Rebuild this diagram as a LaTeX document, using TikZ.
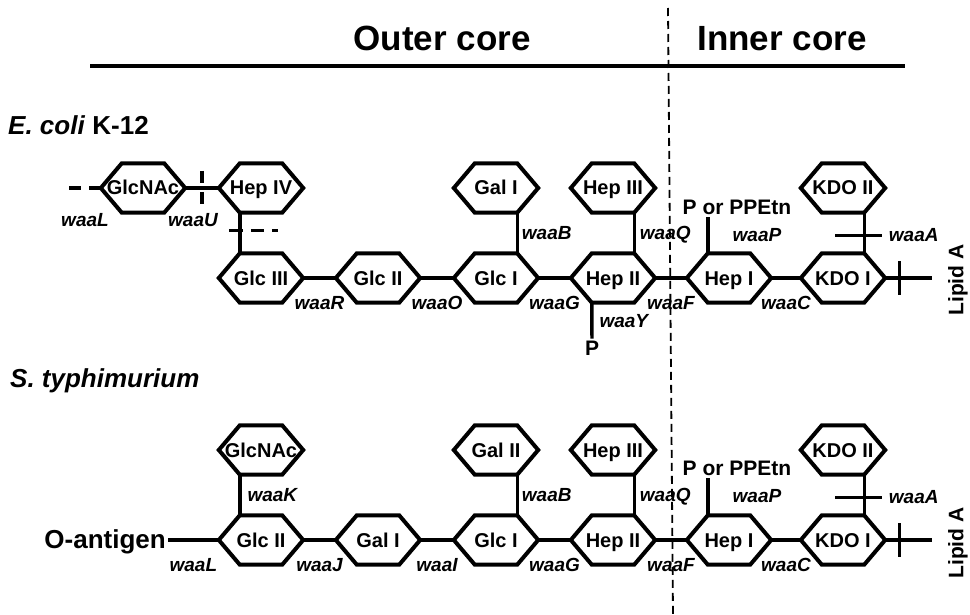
\documentclass[tikz,border=0pt]{standalone}
\usepackage{fontspec}
\setmainfont{Liberation Sans}
\tikzset{
% Sugar residues (hexagon drawn afterwards) and their labels
sugar node/.style={rectangle,minimum width=84pt,minimum height=49pt,inner sep=0pt,text height=14pt,text depth=0pt,font=\bfseries\fontsize{20}{22}\selectfont},
hex edge/.style={line width=4pt,line join=miter},
bond/.style={line width=3.4pt},
gene/.style={inner sep=0pt,text height=13pt,text depth=0pt,font=\bfseries\itshape\fontsize{19}{22}\selectfont},
group label/.style={inner sep=2pt,font=\bfseries\fontsize{21}{24}\selectfont},
species/.style={inner sep=0pt,anchor=base west,font=\bfseries\fontsize{26}{30}\selectfont},
core title/.style={inner sep=0pt,anchor=base,font=\bfseries\fontsize{35}{40}\selectfont},
lipid/.style={inner sep=0pt,rotate=90,font=\bfseries\fontsize{21}{24}\selectfont}
}

\begin{document}
\begin{tikzpicture}[x=1pt,y=-1pt]
\useasboundingbox (0,0) rectangle (970,615);
% Header
\node[core title] (outer) at (442,51) {Outer core};
\node[core title] (inner) at (782,51) {Inner core};
\coordinate (hl) at (90,66);
\coordinate (hr) at (905,66);
\draw[line width=4.5pt] (hl) -- (hr);
\coordinate (dtop) at (668,8);
\coordinate (dbot) at (673,615);
\draw[line width=1.8pt,dash pattern=on 8pt off 5pt] (dtop) -- (dbot);

% E. coli K-12
\node[species] (ecoli) at (8,135) {\textit{E. coli} K-12};
\node[sugar node] (ecGlcNAc) at (143,188) {GlcNAc};
\node[sugar node] (ecHepIV) at (261,188) {Hep IV};
\node[sugar node] (ecGlcIII) at (261,278) {Glc III};
\node[sugar node] (ecGlcII) at (378,278) {Glc II};
\node[sugar node] (ecGlcI) at (496,278) {Glc I};
\node[sugar node] (ecGalI) at (496,188) {Gal I};
\node[sugar node] (ecHepII) at (613,278) {Hep II};
\node[sugar node] (ecHepIII) at (613,188) {Hep III};
\node[sugar node] (ecHepI) at (729,278) {Hep I};
\node[sugar node] (ecKDOI) at (843,278) {KDO I};
\node[sugar node] (ecKDOII) at (843,188) {KDO II};
% main chain
\draw[bond] (ecGlcIII) -- node[gene,yshift=-25pt] (ecR) {waaR} (ecGlcII);
\draw[bond] (ecGlcII) -- node[gene,yshift=-25pt] (ecO) {waaO} (ecGlcI);
\draw[bond] (ecGlcI) -- node[gene,yshift=-25pt] (ecG) {waaG} (ecHepII);
\draw[bond] (ecHepII) -- node[gene,yshift=-25pt] (ecF) {waaF} (ecHepI);
\draw[bond] (ecHepI) -- node[gene,yshift=-25pt] (ecC) {waaC} (ecKDOI);
% branches
\draw[bond] ([xshift=-21pt]ecGlcI.north east) -- node[gene,anchor=west,xshift=3pt] (ecB) {waaB} ([xshift=-21pt]ecGalI.south east);
\draw[bond] ([xshift=-21pt]ecHepII.north east) -- node[gene,anchor=west,xshift=4pt] (ecQ) {waaQ} ([xshift=-21pt]ecHepIII.south east);
\draw[bond] ([xshift=-21pt]ecKDOI.north east) -- coordinate[pos=0.44] (ecAx) ([xshift=-21pt]ecKDOII.south east);
\draw[bond] ([xshift=-29pt]ecAx) -- ([xshift=18pt]ecAx) node[gene,anchor=west,xshift=5pt] (ecA) {waaA};
\node[group label] (ecPP) at (737,207) {P or PPEtn};
\coordinate (ecHt) at ([xshift=21pt]ecHepI.north west);
\draw[bond] (ecHt) -- (ecHt |- ecPP.south);
\node[gene] (ecP) at (757,235) {waaP};
\node[group label] (ecPh) at (592,348) {P};
\draw[bond] ([xshift=21pt]ecHepII.south west) -- node[gene,anchor=west,xshift=6pt] (ecY) {waaY} (ecPh);
% lipid A end
\coordinate (ecLip) at (932,278);
\draw[bond] (ecKDOI) -- coordinate[pos=0.3] (ecLt) (ecLip);
\draw[bond] ([yshift=17pt]ecLt) -- ([yshift=-17pt]ecLt);
\node[lipid] (ecLipA) at (958,280) {Lipid A};
% outer branch
\draw[bond] (ecGlcNAc) -- coordinate (ecU) (ecHepIV);
\draw[bond,dash pattern=on 12pt off 9pt] ([yshift=17pt]ecU) -- ([yshift=-17pt]ecU);
\node[gene] (ecUl) at (193,220) {waaU};
\coordinate (ecLend) at (68,188);
\draw[bond,dash pattern=on 12pt off 8pt] (ecGlcNAc) -- (ecLend);
\node[gene] (ecLl) at (85,220) {waaL};
\draw[bond] ([xshift=21pt]ecHepIV.south west) -- coordinate[pos=0.44] (ecV) ([xshift=21pt]ecGlcIII.north west);
\draw[bond,dash pattern=on 14pt off 8pt on 13pt off 8pt on 6pt off 10pt] ([xshift=-11pt]ecV) -- ([xshift=38pt]ecV);

% S. typhimurium
\node[species] (styph) at (10,387) {\textit{S. typhimurium}};
\node[group label,font=\bfseries\fontsize{26}{30}\selectfont,anchor=east] (stOant) at (168,542) {O-antigen};
\node[sugar node] (stGlcNAc) at (261,450) {GlcNAc};
\node[sugar node] (stGlcII) at (261,540) {Glc II};
\node[sugar node] (stGalI) at (378,540) {Gal I};
\node[sugar node] (stGlcI) at (496,540) {Glc I};
\node[sugar node] (stGalII) at (496,450) {Gal II};
\node[sugar node] (stHepII) at (613,540) {Hep II};
\node[sugar node] (stHepIII) at (613,450) {Hep III};
\node[sugar node] (stHepI) at (729,540) {Hep I};
\node[sugar node] (stKDOI) at (843,540) {KDO I};
\node[sugar node] (stKDOII) at (843,450) {KDO II};
% main chain
\draw[bond] (stOant.east |- stGlcII) -- node[gene,yshift=-25pt] (stL) {waaL} (stGlcII);
\draw[bond] (stGlcII) -- node[gene,yshift=-25pt] (stJ) {waaJ} (stGalI);
\draw[bond] (stGalI) -- node[gene,yshift=-25pt] (stI) {waaI} (stGlcI);
\draw[bond] (stGlcI) -- node[gene,yshift=-25pt] (stG) {waaG} (stHepII);
\draw[bond] (stHepII) -- node[gene,yshift=-25pt] (stF) {waaF} (stHepI);
\draw[bond] (stHepI) -- node[gene,yshift=-25pt] (stC) {waaC} (stKDOI);
% branches
\draw[bond] ([xshift=21pt]stGlcII.north west) -- node[gene,anchor=west,xshift=6pt] (stK) {waaK} ([xshift=21pt]stGlcNAc.south west);
\draw[bond] ([xshift=-21pt]stGlcI.north east) -- node[gene,anchor=west,xshift=3pt] (stB) {waaB} ([xshift=-21pt]stGalII.south east);
\draw[bond] ([xshift=-21pt]stHepII.north east) -- node[gene,anchor=west,xshift=4pt] (stQ) {waaQ} ([xshift=-21pt]stHepIII.south east);
\draw[bond] ([xshift=-21pt]stKDOI.north east) -- coordinate[pos=0.44] (stAx) ([xshift=-21pt]stKDOII.south east);
\draw[bond] ([xshift=-29pt]stAx) -- ([xshift=18pt]stAx) node[gene,anchor=west,xshift=5pt] (stA) {waaA};
\node[group label] (stPP) at (737,468) {P or PPEtn};
\coordinate (stHt) at ([xshift=21pt]stHepI.north west);
\draw[bond] (stHt) -- (stHt |- stPP.south);
\node[gene] (stP) at (757,496) {waaP};
% lipid A end
\coordinate (stLip) at (932,540);
\draw[bond] (stKDOI) -- coordinate[pos=0.3] (stLt) (stLip);
\draw[bond] ([yshift=17pt]stLt) -- ([yshift=-17pt]stLt);
\node[lipid] (stLipA) at (958,543) {Lipid A};

% Hexagon outlines
\foreach \n in {ecGlcNAc,ecHepIV,ecGlcIII,ecGlcII,ecGlcI,ecGalI,ecHepII,ecHepIII,ecHepI,ecKDOI,ecKDOII,
                stGlcNAc,stGlcII,stGalI,stGlcI,stGalII,stHepII,stHepIII,stHepI,stKDOI,stKDOII}
  \draw[hex edge] (\n.west) -- ([xshift=21pt]\n.north west) -- ([xshift=-21pt]\n.north east)
    -- (\n.east) -- ([xshift=-21pt]\n.south east) -- ([xshift=21pt]\n.south west) -- cycle;
\end{tikzpicture}
\end{document}
